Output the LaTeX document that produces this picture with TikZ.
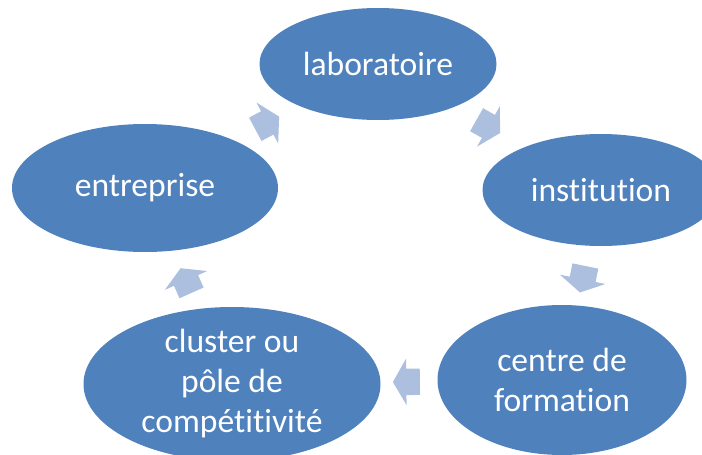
\documentclass[tikz,border=0pt]{standalone}
\usepackage{fontspec}
\setmainfont[Ligatures=NoCommon]{Carlito}
\usetikzlibrary{shapes.geometric,shapes.arrows}
\definecolor{blobblue}{HTML}{4F81BD}
\definecolor{flowblue}{HTML}{ACBFDE}
\begin{document}
\begin{tikzpicture}[x=1pt, y=-1pt,
        blob/.style={ellipse, fill=blobblue, draw=none, inner sep=0pt},
        txt/.style={text=white, align=center, font=\fontsize{33.6}{40}\selectfont},
        flow/.style={single arrow, fill=flowblue, draw=none, inner xsep=0pt, inner ysep=13pt, minimum height=27pt, single arrow head extend=10pt, single arrow tip angle=120, sloped, allow upside down}
    ]
        \useasboundingbox (0,0) rectangle (702,455);
        \clip (0,0) rectangle (702,455);

        % Ellipses (absolute positioning)
        \node[blob, minimum width=237pt, minimum height=112pt] (lab) at (378,64) {};
        \node[blob, minimum width=237pt, minimum height=112pt] (ins) at (601,190) {};
        \node[blob, minimum width=249pt, minimum height=150pt] (cen) at (562,380) {};
        \node[blob, minimum width=297pt, minimum height=154pt] (clu) at (232,384) {};
        \node[blob, minimum width=266pt, minimum height=128pt] (ent) at (145,188) {};

        % Texts
        \node[txt] (lab-t) at (lab) {laboratoire};
        \node[txt] (ins-t) at (ins) {institution};
        \node[txt] (cen-t) at (cen) {centre de\\formation};
        \node[txt] (clu-t) at (clu) {cluster ou\\pôle de\\compétitivité};
        \node[txt] (ent-t) at (ent) {entreprise};

        % Cycle arrows
        \path (ent.center) -- node[flow, pos=0.51] (a1) {} (lab.center);
        \path (lab.center) -- node[flow, pos=0.48] (a2) {} (ins.center);
        \path (ins.center) -- node[flow, pos=0.45] (a3) {} (cen.center);
        \path (cen.center) -- node[flow, pos=0.46] (a4) {} (clu.center);
        \path (clu.center) -- node[flow, pos=0.51] (a5) {} (ent.center);

    \end{tikzpicture}
\end{document}
